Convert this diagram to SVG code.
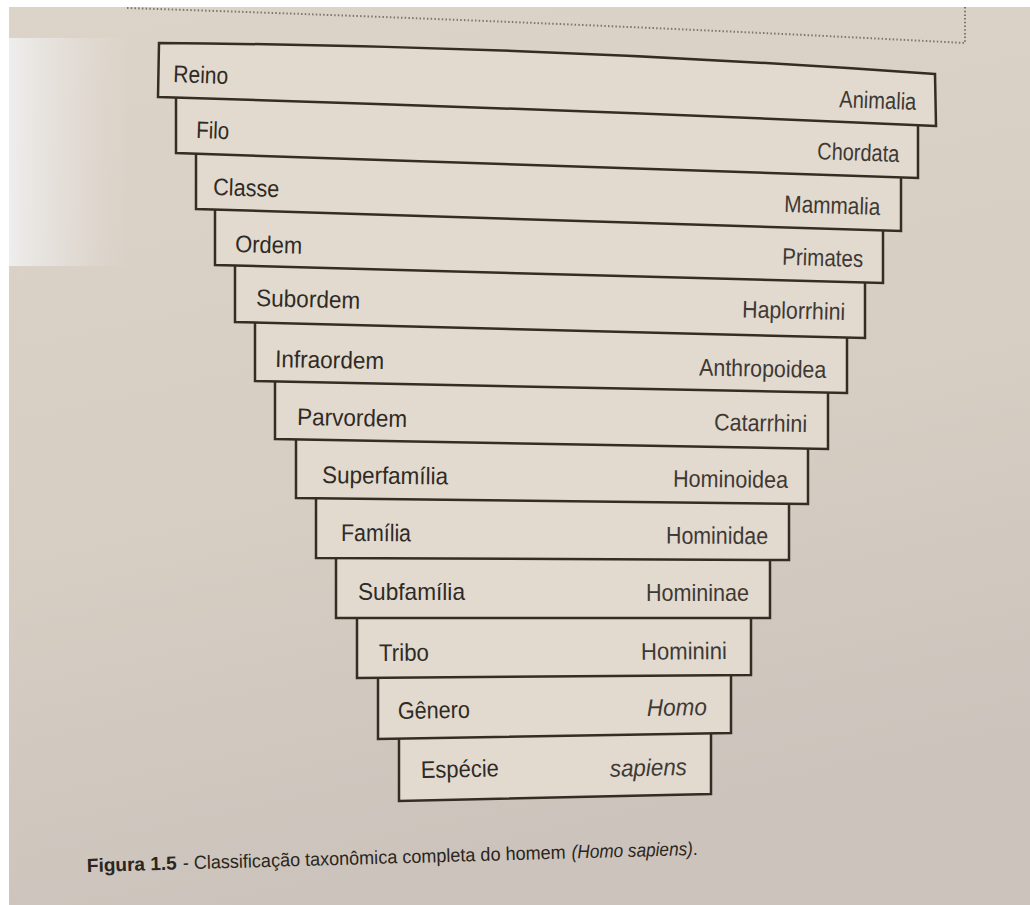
<svg xmlns="http://www.w3.org/2000/svg" width="1030" height="905" viewBox="0 0 1030 905">
<defs>
<linearGradient id="page" x1="0" y1="0" x2="0.25" y2="1">
<stop offset="0" stop-color="#ddd4c9"/>
<stop offset="0.6" stop-color="#d6cdc3"/>
<stop offset="1" stop-color="#ccc4bc"/>
</linearGradient>
<linearGradient id="panel" x1="0" y1="0" x2="1" y2="0">
<stop offset="0" stop-color="#eeeeee" stop-opacity="1"/>
<stop offset="0.25" stop-color="#eceae8" stop-opacity="0.75"/>
<stop offset="1" stop-color="#e6e2dd" stop-opacity="0"/>
</linearGradient>
</defs>
<style>
.box{fill:#e2dacf;stroke:#352c24;stroke-width:2.5;stroke-linejoin:miter}
.lbl{font-family:"Liberation Sans",Arial,sans-serif;font-size:24px;fill:#2f2a25}
.val{font-family:"Liberation Sans",Arial,sans-serif;font-size:24px;fill:#3e3934;text-anchor:end}
.it{font-style:italic}
.cap{font-family:"Liberation Sans",Arial,sans-serif;font-size:19px;fill:#2a2520}
.dot{fill:none;stroke:#7f756c;stroke-width:2;stroke-dasharray:1.5 2.2}
</style>
<rect x="0" y="0" width="1030" height="905" fill="url(#page)"/>
<rect x="9" y="38" width="120" height="228" fill="url(#panel)"/>
<rect x="0" y="0" width="1030" height="7" fill="#ffffff"/>
<rect x="0" y="0" width="9" height="905" fill="#ffffff"/>
<g id="frame">
<path class="dot" d="M127,8 Q560,22 965,43"/>
<path class="dot" d="M965,7 L965,43"/>
</g>
<g id="connectors"></g>
<g id="especie">
<path class="box" d="M399,735 L711,729 L711,794 L399,801 Z"/>
<text class="lbl" x="421" y="778" textLength="78" lengthAdjust="spacingAndGlyphs" transform="rotate(-1.29 421 778)">Espécie</text>
<text class="val it" x="687" y="775" textLength="77" lengthAdjust="spacingAndGlyphs" transform="rotate(-1.29 687 775)">sapiens</text>
</g>
<g id="genero">
<path class="box" d="M378,674 L731,671 L731,733 L378,739 Z"/>
<text class="lbl" x="398" y="719" textLength="72" lengthAdjust="spacingAndGlyphs" transform="rotate(-0.97 398 719)">Gênero</text>
<text class="val it" x="707" y="715" textLength="60" lengthAdjust="spacingAndGlyphs" transform="rotate(-0.97 707 715)">Homo</text>
</g>
<g id="tribo">
<path class="box" d="M357,614 L751,614 L751,675 L357,678 Z"/>
<text class="lbl" x="379" y="661" textLength="50" lengthAdjust="spacingAndGlyphs" transform="rotate(-0.44 379 661)">Tribo</text>
<text class="val" x="727" y="659" textLength="86" lengthAdjust="spacingAndGlyphs" transform="rotate(-0.44 727 659)">Hominini</text>
</g>
<g id="subfamilia">
<path class="box" d="M336,554 L770,556 L770,618 L336,618 Z"/>
<text class="lbl" x="358" y="600" textLength="107" lengthAdjust="spacingAndGlyphs">Subfamília</text>
<text class="val" x="749" y="601" textLength="103" lengthAdjust="spacingAndGlyphs">Homininae</text>
</g>
<g id="familia">
<path class="box" d="M316,494 L789,500 L789,560 L316,558 Z"/>
<text class="lbl" x="341" y="541" textLength="70" lengthAdjust="spacingAndGlyphs" transform="rotate(0.24 341 541)">Família</text>
<text class="val" x="768" y="544" textLength="102" lengthAdjust="spacingAndGlyphs" transform="rotate(0.24 768 544)">Hominidae</text>
</g>
<g id="superfamilia">
<path class="box" d="M296,435 L808,445 L808,504 L296,498 Z"/>
<text class="lbl" x="322" y="483" textLength="126" lengthAdjust="spacingAndGlyphs" transform="rotate(0.67 322 483)">Superfamília</text>
<text class="val" x="788" y="488" textLength="115" lengthAdjust="spacingAndGlyphs" transform="rotate(0.67 788 488)">Hominoidea</text>
</g>
<g id="parvordem">
<path class="box" d="M275,377 L828,389 L828,449 L275,439 Z"/>
<text class="lbl" x="297" y="425" textLength="110" lengthAdjust="spacingAndGlyphs" transform="rotate(1.04 297 425)">Parvordem</text>
<text class="val" x="807" y="432" textLength="93" lengthAdjust="spacingAndGlyphs" transform="rotate(1.04 807 432)">Catarrhini</text>
</g>
<g id="infraordem">
<path class="box" d="M255,318 L847,334 L847,393 L255,381 Z"/>
<text class="lbl" x="275" y="367" textLength="109" lengthAdjust="spacingAndGlyphs" transform="rotate(1.16 275 367)">Infraordem</text>
<text class="val" x="826" y="378" textLength="127" lengthAdjust="spacingAndGlyphs" transform="rotate(1.16 826 378)">Anthropoidea</text>
</g>
<g id="subordem">
<path class="box" d="M235,261 L865,279 L865,338 L235,322 Z"/>
<text class="lbl" x="256" y="306" textLength="104" lengthAdjust="spacingAndGlyphs" transform="rotate(1.45 256 306)">Subordem</text>
<text class="val" x="845" y="320" textLength="103" lengthAdjust="spacingAndGlyphs" transform="rotate(1.45 845 320)">Haplorrhini</text>
</g>
<g id="ordem">
<path class="box" d="M215,205 L883,226 L883,283 L215,265 Z"/>
<text class="lbl" x="235" y="252" textLength="67" lengthAdjust="spacingAndGlyphs" transform="rotate(1.54 235 252)">Ordem</text>
<text class="val" x="863" y="267" textLength="81" lengthAdjust="spacingAndGlyphs" transform="rotate(1.54 863 267)">Primates</text>
</g>
<g id="classe">
<path class="box" d="M196,149 L901,173 L901,231 L196,209 Z"/>
<text class="lbl" x="213" y="195" textLength="66" lengthAdjust="spacingAndGlyphs" transform="rotate(1.79 213 195)">Classe</text>
<text class="val" x="880" y="215" textLength="96" lengthAdjust="spacingAndGlyphs" transform="rotate(1.79 880 215)">Mammalia</text>
</g>
<g id="filo">
<path class="box" d="M176,93 L918,121 L918,178 L176,153 Z"/>
<text class="lbl" x="196" y="138" textLength="33" lengthAdjust="spacingAndGlyphs" transform="rotate(1.93 196 138)">Filo</text>
<text class="val" x="899" y="162" textLength="82" lengthAdjust="spacingAndGlyphs" transform="rotate(1.93 899 162)">Chordata</text>
</g>
<g id="reino">
<path class="box" d="M159,43 Q546,46 935,74 L936,126 Q560,109 158,97 Z"/>
<text class="lbl" x="173" y="82" textLength="55" lengthAdjust="spacingAndGlyphs" transform="rotate(2.13 173 82)">Reino</text>
<text class="val" x="916" y="110" textLength="77" lengthAdjust="spacingAndGlyphs" transform="rotate(2.13 916 110)">Animalia</text>
</g>
<g id="caption" transform="rotate(-1.6 87 872)">
<text class="cap" x="87" y="872" font-weight="bold" textLength="90" lengthAdjust="spacingAndGlyphs">Figura 1.5</text>
<text class="cap" x="183" y="872" textLength="383" lengthAdjust="spacingAndGlyphs">- Classificação taxonômica completa do homem</text>
<text class="cap" x="572" y="872" textLength="126" lengthAdjust="spacingAndGlyphs"><tspan font-style="italic">(Homo sapiens)</tspan>.</text>
</g>
</svg>
